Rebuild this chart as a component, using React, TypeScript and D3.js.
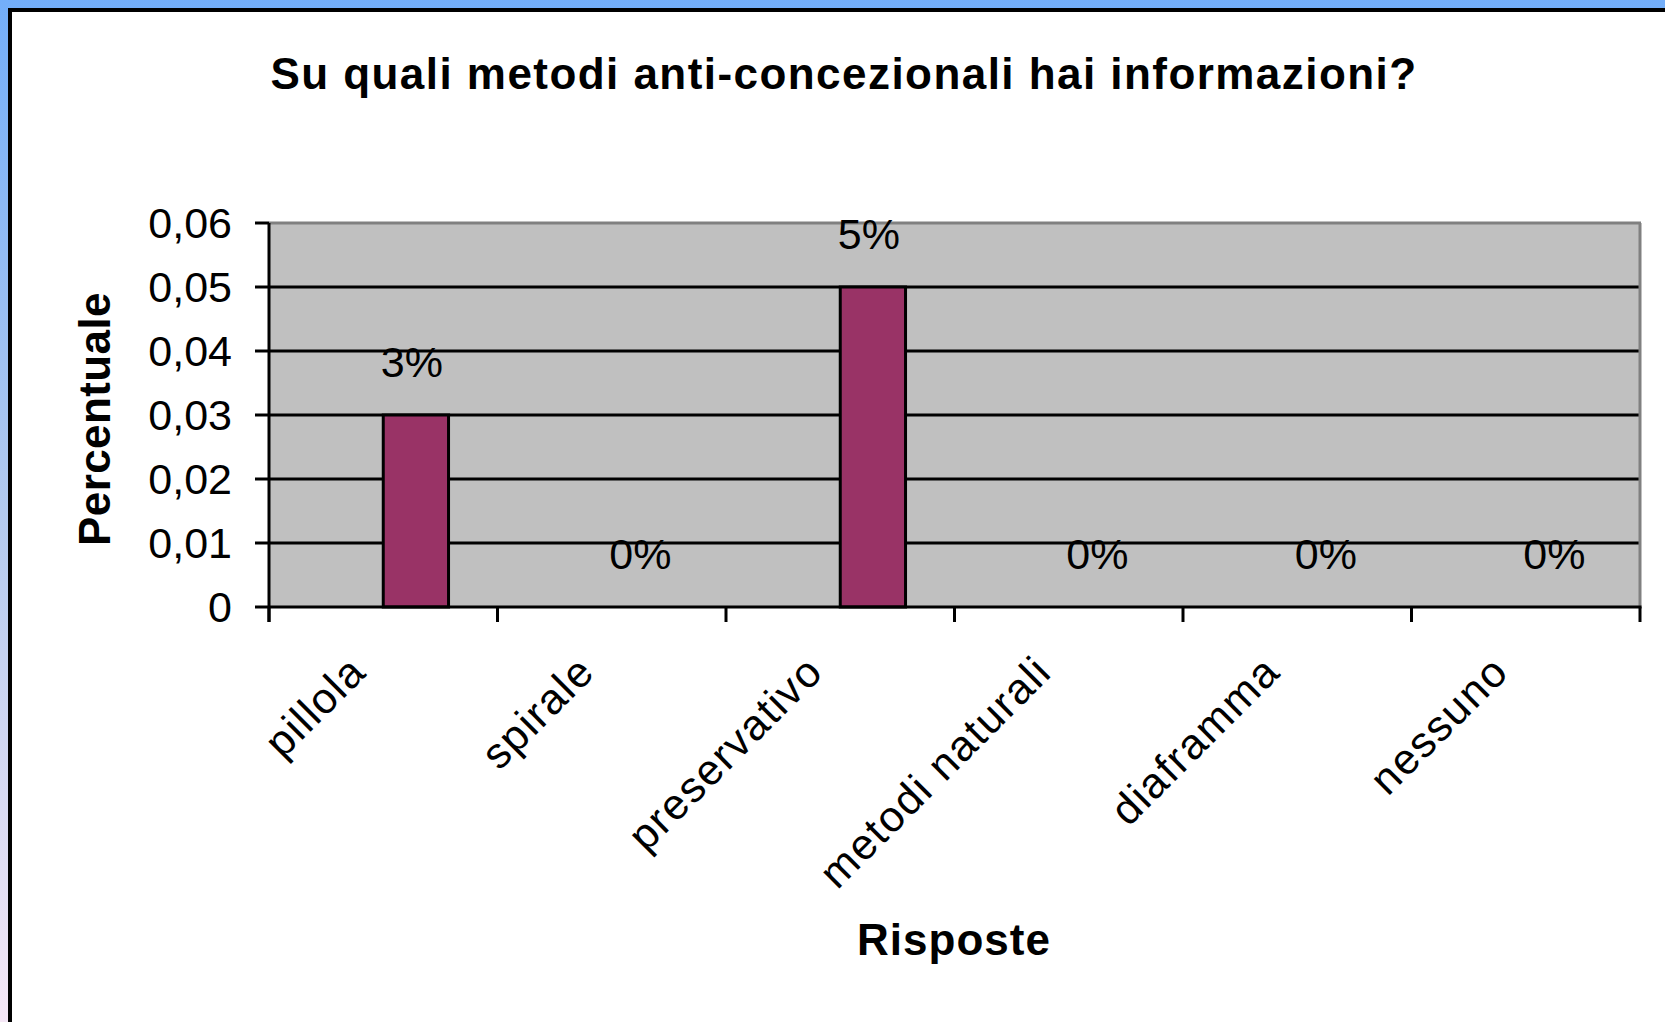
import * as d3 from 'd3';

const categories = ['pillola', 'spirale', 'preservativo', 'metodi naturali', 'diaframma', 'nessuno'];
const values = [0.03, 0, 0.05, 0, 0, 0];
// Excel left an empty first series, so each bar sits in the second slot of its group
const seriesSlots = ['vuota', 'risposte'];
const yTicks = [0, 0.01, 0.02, 0.03, 0.04, 0.05, 0.06];

const title = 'Su quali metodi anti-concezionali hai informazioni?';
const xTitle = 'Risposte';
const yTitle = 'Percentuale';

const W = 1665;
const H = 1022;
const FONT = '"Liberation Sans", Arial, Helvetica, sans-serif';

const plot = { left: 269, right: 1640, top: 223, bottom: 607 };

const App = () => {
  const x = d3.scaleBand<string>()
    .domain(categories)
    .range([plot.left, plot.right])
    .paddingInner(0)
    .paddingOuter(0);

  const xSlot = d3.scaleBand<string>()
    .domain(seriesSlots)
    .range([0, x.bandwidth()])
    .paddingInner(0)
    .paddingOuter(0.75);

  const y = d3.scaleLinear()
    .domain([0, 0.06])
    .range([plot.bottom, plot.top]);

  const fmtTick = (d: number) => (d === 0 ? '0' : d.toFixed(2).replace('.', ','));
  const fmtPct = d3.format('.0%');

  const boundaries = categories.map(c => x(c) as number).concat([plot.right]);

  return (
    <div style={{ position: 'absolute', left: 0, top: 0 }}>
      <svg width={W} height={H} style={{ display: 'block' }}>
        <defs>
          <linearGradient id="frameBg" x1="0" y1="0" x2="0" y2="1">
            <stop offset="0%" stopColor="#73aef9" />
            <stop offset="50%" stopColor="#b3caef" />
            <stop offset="100%" stopColor="#f5e7f6" />
          </linearGradient>
        </defs>

        {/* slide background and chart frame */}
        <rect x={0} y={0} width={W} height={H} fill="url(#frameBg)" />
        <rect x={8} y={8} width={W - 8} height={H - 8} fill="#ffffff" />
        <line x1={8} x2={W} y1={10} y2={10} stroke="#000" strokeWidth={4} />
        <line x1={10} x2={10} y1={8} y2={H} stroke="#000" strokeWidth={4} />

        {/* title */}
        <text x={844} y={89} textAnchor="middle" fontFamily={FONT} fontSize={44}
          fontWeight="bold" letterSpacing={1.45} fill="#000">{title}</text>

        {/* plot area */}
        <rect x={plot.left} y={plot.top} width={plot.right - plot.left}
          height={plot.bottom - plot.top} fill="#c0c0c0" />

        {/* gridlines */}
        {yTicks.filter(t => t > 0 && t < 0.06).map(t => (
          <line key={'g' + t} x1={plot.left} x2={plot.right} y1={y(t)} y2={y(t)}
            stroke="#000" strokeWidth={3} />
        ))}

        {/* plot border top / right */}
        <line x1={plot.left} x2={plot.right + 1} y1={plot.top} y2={plot.top} stroke="#808080" strokeWidth={3} />
        <line x1={plot.right} x2={plot.right} y1={plot.top} y2={plot.bottom} stroke="#808080" strokeWidth={3} />

        {/* bars */}
        {categories.map((c, i) => {
          const bx = (x(c) as number) + (xSlot('risposte') as number);
          const v = values[i];
          if (v <= 0) return null;
          return (
            <rect key={'b' + c} x={bx} y={y(v)} width={xSlot.bandwidth()}
              height={y(0) - y(v)} fill="#993366" stroke="#000" strokeWidth={3} />
          );
        })}

        {/* data labels */}
        {categories.map((c, i) => {
          const cx = (x(c) as number) + (xSlot('risposte') as number) + xSlot.bandwidth() / 2 - 4;
          return (
            <text key={'l' + c} x={cx} y={y(values[i]) - 38} textAnchor="middle"
              fontFamily={FONT} fontSize={43} fill="#000">{fmtPct(values[i])}</text>
          );
        })}

        {/* y axis */}
        <line x1={plot.left} x2={plot.left} y1={plot.top} y2={plot.bottom + 15} stroke="#000" strokeWidth={3} />
        {yTicks.map(t => (
          <g key={'y' + t}>
            <line x1={plot.left - 14} x2={plot.left} y1={y(t)} y2={y(t)} stroke="#000" strokeWidth={3} />
            <text x={232} y={y(t)} dy="0.35em" textAnchor="end" fontFamily={FONT}
              fontSize={43} fill="#000">{fmtTick(t)}</text>
          </g>
        ))}

        {/* x axis */}
        <line x1={plot.left} x2={plot.right + 1.5} y1={plot.bottom} y2={plot.bottom} stroke="#000" strokeWidth={3} />
        {boundaries.map((bx, i) => (
          <line key={'t' + i} x1={bx} x2={bx} y1={plot.bottom} y2={plot.bottom + 15}
            stroke="#000" strokeWidth={3} />
        ))}
        {categories.map(c => {
          const cx = (x(c) as number) + x.bandwidth() / 2 - 15;
          return (
            <text key={'x' + c} transform={`translate(${cx},${plot.bottom + 67}) rotate(-45)`}
              textAnchor="end" fontFamily={FONT} fontSize={43} letterSpacing={1.6}
              fill="#000">{c}</text>
          );
        })}

        {/* axis titles */}
        <text x={954} y={955} textAnchor="middle" fontFamily={FONT} fontSize={44}
          fontWeight="bold" letterSpacing={1} fill="#000">{xTitle}</text>
        <text transform={`translate(110,${(plot.top + plot.bottom) / 2 + 4}) rotate(-90)`}
          textAnchor="middle" fontFamily={FONT} fontSize={44} fontWeight="bold"
          letterSpacing={0.4} fill="#000">{yTitle}</text>
      </svg>
    </div>
  );
};

export default App;
